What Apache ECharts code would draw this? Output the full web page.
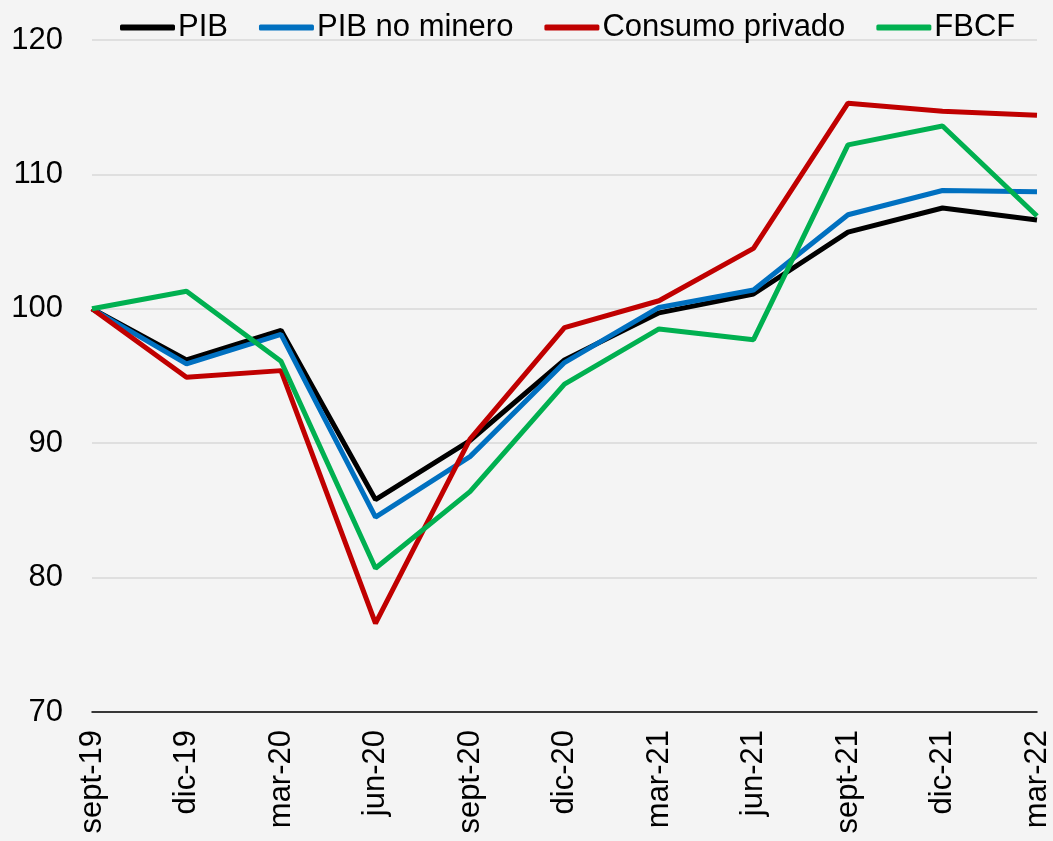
<!DOCTYPE html>
<html>
<head>
<meta charset="utf-8">
<script src="https://cdn.jsdelivr.net/npm/echarts@6/dist/echarts.min.js"></script>
<style>
  html, body { margin: 0; padding: 0; background: #f4f4f4; }
  #chart { width: 1053px; height: 841px; }
</style>
</head>
<body>
<div id="chart"></div>
<script>
// trimestres
const categories = ['sept-19', 'dic-19', 'mar-20', 'jun-20', 'sept-20', 'dic-20', 'mar-21', 'jun-21', 'sept-21', 'dic-21', 'mar-22'];

// índices (sept-19 = 100)
const pib = [100, 96.2, 98.4, 85.8, 90.2, 96.2, 99.7, 101.1, 105.7, 107.5, 106.6];
const pibNoMinero = [100, 95.9, 98.1, 84.5, 89.0, 96.0, 100.1, 101.4, 107.0, 108.8, 108.7];
const consumoPrivado = [100, 94.9, 95.4, 76.6, 90.3, 98.6, 100.6, 104.5, 115.3, 114.7, 114.4];
const fbcf = [100, 101.3, 96.1, 80.7, 86.4, 94.4, 98.5, 97.7, 112.2, 113.6, 106.9];

const yTicks = [70, 80, 90, 100, 110, 120];

const font = 'Liberation Sans, Arial, sans-serif';

const mychart = echarts.init(document.getElementById('chart'));

function serie(name, data, color) {
  return {
    name: name,
    type: 'line',
    data: data,
    symbol: 'none',
    lineStyle: { color: color, width: 5 },
    itemStyle: { color: color },
    z: 3
  };
}

mychart.setOption({
  backgroundColor: '#f4f4f4',
  animation: false,
  textStyle: { fontFamily: font },
  legend: {
    top: 7,
    left: 115,
    itemWidth: 55,
    itemHeight: 6,
    itemGap: 31,
    icon: 'roundRect',
    textStyle: { fontSize: 31, color: '#000', fontFamily: font, padding: [0, 0, 0, -2] },
    data: ['PIB', 'PIB no minero', 'Consumo privado', 'FBCF']
  },
  grid: { left: 92, right: 16, top: 40, bottom: 129, containLabel: false },
  xAxis: {
    type: 'category',
    data: categories,
    boundaryGap: false,
    axisLine: { lineStyle: { color: '#000', width: 1.5 } },
    axisTick: { show: false },
    axisLabel: {
      rotate: 90,
      interval: 0,
      margin: 18,
      fontSize: 31,
      color: '#000',
      fontFamily: font
    }
  },
  yAxis: {
    type: 'value',
    min: yTicks[0],
    max: yTicks[yTicks.length - 1],
    interval: 10,
    axisLine: { show: false },
    axisTick: { show: false },
    splitLine: { lineStyle: { color: '#d9d9d9', width: 1.5 } },
    axisLabel: { fontSize: 31, color: '#000', margin: 29, fontFamily: font }
  },
  series: [
    serie('PIB', pib, '#000000'),
    serie('PIB no minero', pibNoMinero, '#0070C0'),
    serie('Consumo privado', consumoPrivado, '#C00000'),
    serie('FBCF', fbcf, '#00B050')
  ]
});

window.addEventListener('resize', () => {
  mychart.resize();
});
</script>
</body>
</html>
